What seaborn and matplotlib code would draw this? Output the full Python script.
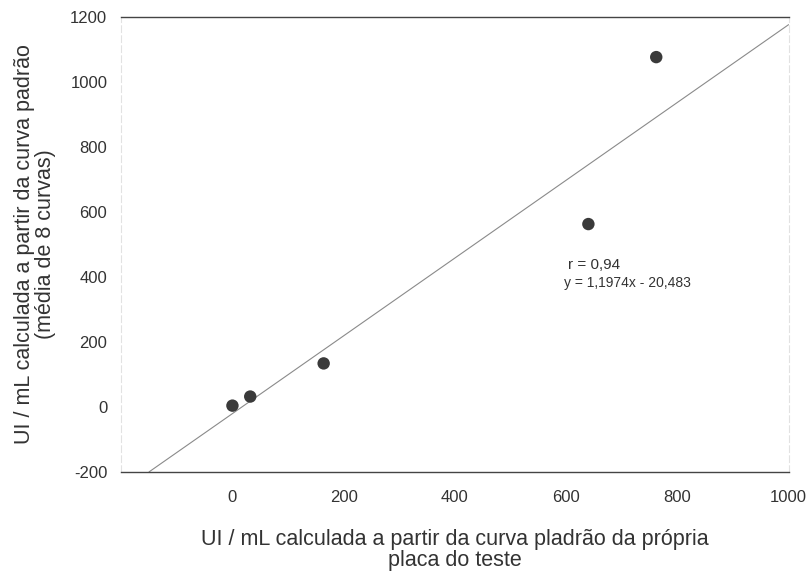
import seaborn as sns
import matplotlib.pyplot as plt
import pandas as pd

# valores
x_placa = [0, 32, 164, 640, 762]
y_media = [4, 32, 134, 563, 1077]

# reta de regressão indicada no gráfico
slope = 1.1974
intercept = -20.483
r_value = "0,94"

x_ticks = [0, 200, 400, 600, 800, 1000]
y_ticks = [-200, 0, 200, 400, 600, 800, 1000, 1200]

df = pd.DataFrame({"x": x_placa, "y": y_media})

sns.set_style("white")
plt.rcParams["font.family"] = ["Liberation Sans", "DejaVu Sans"]
plt.rcParams["axes.unicode_minus"] = False

fig = plt.figure(figsize=(8.08, 5.72), dpi=100)
ax = fig.add_axes([0.150, 0.175, 0.826, 0.795])

ax.axline((0, intercept), slope=slope, color="#8a8a8a", linewidth=0.8, zorder=1)
sns.scatterplot(data=df, x="x", y="y", ax=ax, color="#3a3a3a", s=80,
                edgecolor="none", zorder=3)

ax.set_xlim(-200, 1000)
ax.set_ylim(-200, 1200)
ax.set_xticks(x_ticks)
ax.set_yticks(y_ticks)
ax.tick_params(axis="x", length=0, pad=13, labelsize=12, labelcolor="#333333")
ax.tick_params(axis="y", length=4, width=0.8, color="#bbbbbb", direction="out",
               pad=6, labelsize=12, labelcolor="#333333")

for side in ["top", "bottom"]:
    ax.spines[side].set_color("#444444")
    ax.spines[side].set_linewidth(1.0)
for side in ["left", "right"]:
    ax.spines[side].set_color("#e2e2e2")
    ax.spines[side].set_linewidth(0.8)
    ax.spines[side].set_linestyle((0, (6, 3)))

ax.set_xlabel("UI / mL calculada a partir da curva pladrão da própria\nplaca do teste",
              fontsize=15.5, color="#333333", labelpad=17, linespacing=1.0)
ax.set_ylabel("UI / mL calculada a partir da curva padrão\n(média de 8 curvas)",
              fontsize=15.5, color="#333333", labelpad=10, linespacing=1.0)

ax.text(604, 437, "r = " + r_value, fontsize=11, color="#333333",
        ha="left", va="center")
ax.text(597, 383, "y = 1,1974x - 20,483", fontsize=10, color="#333333",
        ha="left", va="center")

fig.savefig("out.png", dpi=100)
